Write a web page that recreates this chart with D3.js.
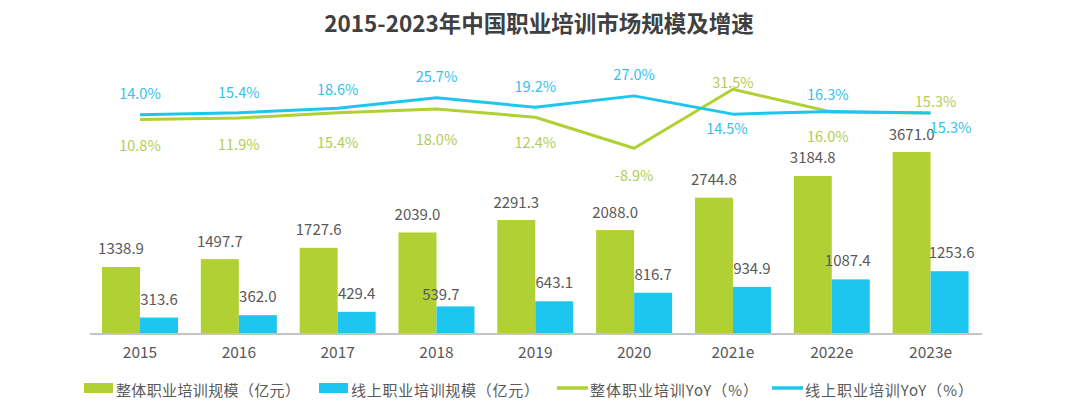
<!DOCTYPE html>
<html><head><meta charset="utf-8">
<script src="https://cdn.jsdelivr.net/npm/d3@7"></script>
<style>
html,body{margin:0;padding:0;background:#fff;}
svg{display:block;font-family:"Noto Sans CJK SC","Noto Sans",sans-serif;text-spacing-trim:space-all;}
</style></head>
<body>
<svg id="chart" width="1080" height="413"></svg>
<script>
const title = "2015-2023年中国职业培训市场规模及增速";
const years = ["2015","2016","2017","2018","2019","2020","2021e","2022e","2023e"];
const totalScale = [1338.9,1497.7,1727.6,2039.0,2291.3,2088.0,2744.8,3184.8,3671.0];
const onlineScale = [313.6,362.0,429.4,539.7,643.1,816.7,934.9,1087.4,1253.6];
const totalYoY = [10.8,11.9,15.4,18.0,12.4,-8.9,31.5,16.0,15.3];
const onlineYoY = [14.0,15.4,18.6,25.7,19.2,27.0,14.5,16.3,15.3];
const legendLabels = ["整体职业培训规模（亿元）","线上职业培训规模（亿元）","整体职业培训YoY（%）","线上职业培训YoY（%）"];

// layout: label offsets (pixels) relative to their marks
const onlineLabelOff = [[0,-22],[0,-21],[0,-20],[0,-22],[0,-22],[0,-22],[-6,13],[-4,-18],[20,14]];
const totalLabelOff  = [[0,24.5],[0,26],[0,28.5],[0,29],[0,24.5],[0,26],[0,-7.5],[-4,23.5],[5,-12]];
const onlineBarLabelOff = [[0,-19.5],[0,-19.5],[0,-19.5],[-14.5,-12.5],[0,-19.5],[0,-19.5],[0,-19.5],[-3,-19.5],[2,-19.5]];

const GREEN = "#b1d033", BLUE = "#1ec6ef";
const GREEN_T = "#b3cc55", BLUE_T = "#36c0ea";
const GREY = "#595959";

const svg = d3.select("#chart");

svg.append("text").attr("x",539).attr("y",22).attr("text-anchor","middle")
  .attr("dominant-baseline","central").attr("font-size",22.5).attr("font-weight","bold")
  .attr("fill","#404040").text(title);

const x0 = d3.scaleBand().domain(years).range([90.6,980]).paddingInner(0.231).paddingOuter(0.1155);
const x1 = d3.scaleBand().domain(["total","online"]).range([0,x0.bandwidth()]);
const yBar = d3.scaleLinear().domain([0,4000]).range([333,135.8]);
const yLine = d3.scaleLinear().domain([-10,35]).range([135.3+14.6,135.3-1.46*35]);
const cx = d => x0(d) + x0.bandwidth()/2;

// bars
const g = svg.append("g");
g.selectAll("rect.total").data(years).join("rect").attr("class","total")
  .attr("x",d=>x0(d)+x1("total")).attr("width",x1.bandwidth())
  .attr("y",(d,i)=>yBar(totalScale[i])).attr("height",(d,i)=>yBar(0)-yBar(totalScale[i]))
  .attr("fill",GREEN);
g.selectAll("rect.online").data(years).join("rect").attr("class","online")
  .attr("x",d=>x0(d)+x1("online")).attr("width",x1.bandwidth())
  .attr("y",(d,i)=>yBar(onlineScale[i])).attr("height",(d,i)=>yBar(0)-yBar(onlineScale[i]))
  .attr("fill",BLUE);

// axis
const xAxis = d3.axisBottom(x0).tickSize(0).tickPadding(13);
const ax = svg.append("g").attr("transform","translate(0,334)").call(xAxis);
ax.select(".domain").attr("stroke","#c4c4c4").attr("stroke-width",2).attr("d","M90,0H982");
ax.selectAll("text").attr("font-size",15.5).attr("fill",GREY)
  .attr("font-family",'"Noto Sans CJK SC","Noto Sans",sans-serif');

// bar labels
g.selectAll("text.tl").data(years).join("text").attr("class","tl")
  .attr("x",d=>x0(d)+x1("total")+x1.bandwidth()/2)
  .attr("y",(d,i)=>yBar(totalScale[i])-19)
  .attr("text-anchor","middle").attr("dominant-baseline","central")
  .attr("font-size",15).attr("fill",GREY).text((d,i)=>totalScale[i].toFixed(1));
g.selectAll("text.ol").data(years).join("text").attr("class","ol")
  .attr("x",(d,i)=>x0(d)+x1("online")+x1.bandwidth()/2+onlineBarLabelOff[i][0])
  .attr("y",(d,i)=>yBar(onlineScale[i])+onlineBarLabelOff[i][1])
  .attr("text-anchor","middle").attr("dominant-baseline","central")
  .attr("font-size",15).attr("fill",GREY).text((d,i)=>onlineScale[i].toFixed(1));

// lines
const line = d3.line().x(d=>cx(d[0])).y(d=>yLine(d[1]));
svg.append("path").datum(years.map((y,i)=>[y,totalYoY[i]])).attr("d",line)
  .attr("fill","none").attr("stroke",GREEN).attr("stroke-width",3).attr("stroke-linejoin","round");
svg.append("path").datum(years.map((y,i)=>[y,onlineYoY[i]])).attr("d",line)
  .attr("fill","none").attr("stroke",BLUE).attr("stroke-width",3).attr("stroke-linejoin","round");

// line labels
svg.selectAll("text.gy").data(years).join("text").attr("class","gy")
  .attr("x",(d,i)=>cx(d)+totalLabelOff[i][0]).attr("y",(d,i)=>yLine(totalYoY[i])+totalLabelOff[i][1])
  .attr("text-anchor","middle").attr("dominant-baseline","central")
  .attr("font-size",14.5).attr("fill",GREEN_T).text((d,i)=>totalYoY[i].toFixed(1)+"%");
svg.selectAll("text.by").data(years).join("text").attr("class","by")
  .attr("x",(d,i)=>cx(d)+onlineLabelOff[i][0]).attr("y",(d,i)=>yLine(onlineYoY[i])+onlineLabelOff[i][1])
  .attr("text-anchor","middle").attr("dominant-baseline","central")
  .attr("font-size",14.5).attr("fill",BLUE_T).text((d,i)=>onlineYoY[i].toFixed(1)+"%");

// legend
const legX = [84,319,557,772];
const legW = [184,188,168,168];
const leg = svg.append("g");
legendLabels.forEach((t,i)=>{
  const col = (i%2===0)?GREEN:BLUE;
  if(i<2){
    leg.append("rect").attr("x",legX[i]).attr("y",383).attr("width",29).attr("height",10).attr("fill",col);
  } else {
    leg.append("line").attr("x1",legX[i]).attr("x2",legX[i]+31).attr("y1",388).attr("y2",388)
      .attr("stroke",col).attr("stroke-width",3.5);
  }
  leg.append("text").attr("x",legX[i]+(i<2?32:33)).attr("y",389).attr("dominant-baseline","central")
    .attr("font-size",15).attr("fill",GREY)
    .attr("textLength",legW[i]).attr("lengthAdjust","spacing").text(t);
});
</script>
</body></html>
